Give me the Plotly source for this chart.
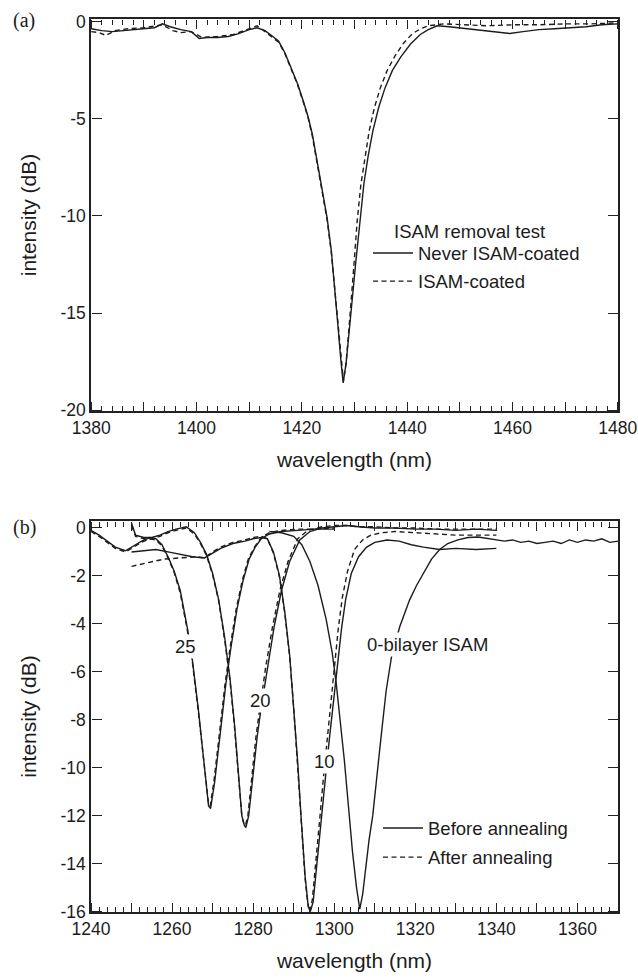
import plotly.graph_objects as go

# ---------------- Panel (a): ISAM removal test ----------------
wl_a_never = [1380, 1382, 1384, 1386, 1388, 1390, 1392, 1393.5, 1395, 1397, 1399, 1400.5, 1402, 1404,
              1406, 1408, 1410, 1411.5, 1413, 1414.5, 1415.6, 1416.8, 1418, 1419.2, 1420.3, 1421.2,
              1422.0, 1423.0, 1424.0, 1424.8, 1425.6, 1426.3, 1426.9, 1427.4, 1427.85, 1428.4, 1428.9,
              1429.5, 1430.2, 1431.0, 1431.8, 1432.6, 1433.5, 1434.6, 1435.8, 1437.2, 1438.8, 1440.6,
              1442.5, 1444.0, 1445.7, 1448, 1451, 1454, 1457, 1459.5, 1462, 1465, 1468, 1471, 1474,
              1477, 1480]
db_a_never = [-0.35, -0.45, -0.5, -0.45, -0.4, -0.35, -0.3, -0.1, -0.25, -0.4, -0.5, -0.85, -0.8, -0.8,
              -0.75, -0.6, -0.4, -0.3, -0.45, -0.75, -1.0, -1.6, -2.4, -3.2, -4.1, -4.9,
              -5.8, -7.4, -8.9, -10.1, -11.8, -13.8, -15.8, -17.4, -18.6, -17.6, -16.3,
              -14.5, -12.5, -10.2, -8.3, -6.9, -5.6, -4.4, -3.4, -2.5, -1.8, -1.15,
              -0.65, -0.4, -0.2, -0.25, -0.35, -0.45, -0.55, -0.6, -0.5, -0.4, -0.35, -0.3, -0.25,
              -0.15, -0.1]

wl_a_coated = [1380, 1381.5, 1382.8, 1384.5, 1387, 1390, 1393.5, 1395.5, 1397, 1399, 1401, 1404, 1407,
               1410, 1411.5, 1413, 1414.5, 1415.6, 1416.8, 1418, 1419.2, 1420.3, 1421.2, 1422.0,
               1423.0, 1424.0, 1424.8, 1425.6, 1426.3, 1426.9, 1427.4, 1427.9, 1428.4, 1428.8, 1429.3,
               1429.9, 1430.5, 1431.2, 1432.0, 1432.8, 1433.8, 1434.9, 1436.2, 1437.7, 1439.3, 1441.0,
               1442.6, 1444, 1447, 1450, 1455, 1460, 1465, 1470, 1475, 1480]
db_a_coated = [-0.5, -0.55, -0.7, -0.45, -0.35, -0.3, -0.15, -0.45, -0.55, -0.5, -0.8, -0.75, -0.65,
               -0.35, -0.2, -0.5, -0.8, -1.05, -1.65, -2.45, -3.25, -4.15, -4.95, -5.9,
               -7.5, -9.0, -10.2, -11.9, -13.9, -15.9, -17.4, -18.5, -17.6, -16.4, -14.6,
               -12.5, -10.3, -8.4, -6.9, -5.6, -4.4, -3.4, -2.5, -1.75, -1.1, -0.6,
               -0.35, -0.2, -0.1, -0.15, -0.2, -0.15, -0.15, -0.1, -0.1, -0.05]

# ---------------- Panel (b): annealing, several bilayer counts ----------------
wl_b25_before = [1240, 1242, 1244, 1246, 1248.5, 1250.5, 1252.5, 1254.5, 1256, 1257.5, 1259, 1260.5,
                 1262, 1263.8, 1265, 1266.5, 1268, 1269, 1269.5, 1270.5, 1272, 1273.2, 1274.5, 1276,
                 1277.5, 1279, 1280.5, 1282, 1284, 1287, 1291, 1295, 1300]
db_b25_before = [-0.1, -0.3, -0.55, -0.8, -0.95, -0.75, -0.55, -0.4, -0.45, -0.7, -1.2, -1.8,
                 -2.6, -4.2, -5.5, -7.6, -10.0, -11.6, -11.7, -10.6, -8.4, -6.6, -5.0, -3.4,
                 -2.2, -1.3, -0.8, -0.45, -0.25, -0.15, -0.1, -0.05, -0.05]
wl_b25_after = [1240, 1242, 1244, 1246, 1248.5, 1250.5, 1252.5, 1254.5, 1256, 1257.5, 1259, 1260.5,
                1262, 1263.8, 1265, 1266.5, 1268, 1269, 1269.4, 1270.3, 1271.8, 1273.0, 1274.3, 1275.8,
                1277.3, 1278.8, 1280.3, 1282, 1284, 1287, 1291, 1295, 1300]
db_b25_after = [-0.15, -0.35, -0.6, -0.85, -1.0, -0.8, -0.6, -0.45, -0.5, -0.75, -1.25, -1.85,
                -2.7, -4.3, -5.6, -7.7, -10.1, -11.5, -11.6, -10.6, -8.4, -6.6, -5.0, -3.4,
                -2.2, -1.3, -0.8, -0.4, -0.2, -0.1, -0.05, -0.05, 0.0]

wl_b20_before = [1250, 1251, 1253, 1255, 1257, 1259, 1261, 1263.5, 1265.5, 1267, 1268.5, 1270, 1271.5,
                 1273, 1274.3, 1275.4, 1276.4, 1277.2, 1277.8, 1278.2, 1278.9, 1280, 1281, 1281.8,
                 1283.5, 1285.2, 1287, 1289, 1291.5, 1294, 1297, 1300, 1303, 1306, 1310, 1315, 1320,
                 1325, 1330, 1335, 1340]
db_b20_before = [0.2, -0.3, -0.4, -0.4, -0.3, -0.15, -0.05, 0.05, -0.2, -0.6, -1.1, -1.9, -3.0,
                 -4.6, -6.3, -8.2, -10.3, -12.0, -12.4, -12.5, -12.0, -10.2, -8.7, -7.7,
                 -5.8, -4.1, -2.6, -1.4, -0.5, -0.15, 0.0, 0.05, 0.1, 0.05, 0.0, 0.0, -0.05,
                 -0.05, -0.1, -0.05, -0.1]
wl_b20_after = [1250, 1251, 1253, 1255, 1257, 1259, 1261, 1263.5, 1265.5, 1267, 1268.5, 1270, 1271.5,
                1273, 1274.3, 1275.4, 1276.4, 1277.2, 1277.8, 1278.1, 1278.7, 1279.7, 1280.7, 1281.5,
                1283.1, 1284.8, 1286.6, 1288.6, 1291, 1293.5, 1297, 1300, 1303, 1306, 1310, 1315, 1320,
                1325, 1330, 1335, 1340]
db_b20_after = [0.1, -0.35, -0.45, -0.45, -0.35, -0.2, -0.1, 0.0, -0.25, -0.65, -1.15, -1.95, -3.05,
                -4.7, -6.4, -8.3, -10.4, -12.0, -12.4, -12.4, -12.0, -10.2, -8.7, -7.7,
                -5.8, -4.1, -2.6, -1.4, -0.45, -0.1, 0.05, 0.1, 0.1, 0.05, 0.05, 0.0, 0.0,
                -0.05, -0.05, -0.05, -0.05]

wl_b10_before = [1250, 1253, 1256, 1259, 1262, 1265, 1268, 1270, 1272, 1275, 1278, 1280, 1282, 1283.5,
                 1285, 1286.5, 1287.8, 1289, 1290, 1291, 1291.8, 1292.8, 1293.6, 1294.1, 1294.8,
                 1295.8, 1296.9, 1297.9, 1298.8, 1299.8, 1300.8, 1301.8, 1302.8, 1304.2, 1306, 1308,
                 1310, 1313, 1316, 1319, 1322, 1326, 1330, 1335, 1340]
db_b10_before = [-1.0, -0.95, -0.9, -1.0, -1.1, -1.2, -1.25, -1.05, -0.85, -0.65, -0.55, -0.45, -0.4,
                 -0.45, -1.0, -2.0, -3.5, -5.3, -7.4, -9.8, -12.0, -14.5, -15.8, -16.0, -15.6,
                 -13.8, -12.0, -10.3, -8.8, -7.2, -5.7, -4.2, -3.0, -1.9, -1.2, -0.8,
                 -0.6, -0.5, -0.55, -0.7, -0.8, -0.9, -0.85, -0.9, -0.85]
wl_b10_after = [1250, 1254, 1258, 1262, 1266, 1268, 1270, 1272, 1275, 1278, 1280, 1282, 1283.5,
                1285, 1286.5, 1287.8, 1289, 1290, 1291, 1291.8, 1292.8, 1293.5, 1294.0, 1294.6,
                1295.5, 1296.5, 1297.4, 1298.3, 1299.2, 1300.1, 1301.0, 1302.0, 1303.3, 1305, 1307,
                1309, 1311.7, 1315, 1320, 1325, 1330, 1335, 1340]
db_b10_after = [-1.6, -1.45, -1.3, -1.25, -1.2, -1.25, -1.0, -0.8, -0.6, -0.5, -0.4, -0.35, -0.45,
                -1.05, -2.05, -3.55, -5.35, -7.5, -9.9, -12.1, -14.6, -15.7, -16.0, -15.5,
                -13.7, -12.0, -10.3, -8.8, -7.2, -5.7, -4.2, -2.9, -1.8, -0.9, -0.5,
                -0.3, -0.2, -0.15, -0.2, -0.25, -0.3, -0.3, -0.3]

wl_b0_before = [1284, 1287, 1290, 1292, 1294, 1296, 1298, 1299.5, 1300.5, 1301.5, 1302.5, 1303.5, 1304.5,
                1305.5, 1306.3, 1307, 1307.8, 1308.6, 1309.5, 1310.5, 1311.5, 1312.8, 1314.2, 1316.2,
                1318.6, 1320.3, 1322, 1324, 1326, 1328, 1330.5, 1333, 1335.5, 1338, 1340, 1342, 1344,
                1346, 1348, 1350, 1352, 1354, 1356, 1358, 1360, 1362, 1364, 1366, 1368, 1370]
db_b0_before = [-0.15, -0.2, -0.35, -0.7, -1.4, -2.4, -3.8, -5.2, -6.5, -8.0, -9.7, -11.6, -13.5,
                -15.0, -15.9, -15.3, -14.0, -13.0, -12.0, -10.3, -8.8, -6.8, -5.3, -4.1,
                -3.0, -2.4, -1.9, -1.3, -0.9, -0.65, -0.5, -0.4, -0.38, -0.45, -0.5, -0.55, -0.5,
                -0.6, -0.55, -0.65, -0.6, -0.55, -0.65, -0.5, -0.6, -0.5, -0.55, -0.45, -0.6, -0.55]

# tick values / labels
xa_vals = list(range(1380, 1481, 10))
xa_text = [str(v) if (v - 1380) % 20 == 0 else "" for v in xa_vals]
xb_vals = list(range(1240, 1371, 10))
xb_text = [str(v) if (v - 1240) % 20 == 0 else "" for v in xb_vals]
ya_vals = [0, -5, -10, -15, -20]
ya_text = ["0", "-5", "-10", "-15", "-20"]
yb_vals = [0, -2, -4, -6, -8, -10, -12, -14, -16]
yb_text = ["0", "-2", "-4", "-6", "-8", "-10", "-12", "-14", "-16"]

# ---------------- layout helpers (pixel geometry of the reference) ----------------
L, R, T, B = 91, 618, 19, 912
W, H = 638, 979


def px_x(x):
    return (x - L) / (R - L)


def px_y(y):
    return (B - y) / (B - T)


INK = "#1c1c1c"
AX = "#222222"
FONT = "Liberation Sans, Arial, sans-serif"
LW = 1.4
DASH = "5px,3.5px"
TICK_FS = 17.5
TITLE_FS = 21
LEG_FS = 18.5

XR_A = [1379.95, 1480.05]
YR_A = [-20.05, 0.15]
XR_B = [1240, 1370]
YR_B = [-16.02, 0.29]
YD_A = [px_y(411), 1]
YD_B = [0, px_y(521)]

fig = go.Figure()


def add(x, y, dashed, xa, ya, name=None, legend=None, show=False, group=None):
    fig.add_trace(go.Scatter(
        x=x, y=y, mode="lines", xaxis=xa, yaxis=ya,
        line=dict(color=INK, width=LW, dash=DASH if dashed else "solid"),
        name=name, showlegend=show, legend=legend, legendgroup=group,
        hoverinfo="skip"))


# panel (a)
add(wl_a_never, db_a_never, False, "x", "y", "Never ISAM-coated", "legend", True, "a1")
add(wl_a_coated, db_a_coated, True, "x", "y", "ISAM-coated", "legend", True, "a2")

# panel (b)
add(wl_b25_before, db_b25_before, False, "x2", "y2", "Before annealing", "legend2", True, "b1")
add(wl_b25_after, db_b25_after, True, "x2", "y2", "After annealing", "legend2", True, "b2")
add(wl_b20_before, db_b20_before, False, "x2", "y2")
add(wl_b20_after, db_b20_after, True, "x2", "y2")
add(wl_b10_before, db_b10_before, False, "x2", "y2")
add(wl_b10_after, db_b10_after, True, "x2", "y2")
add(wl_b0_before, db_b0_before, False, "x2", "y2")

# empty traces so that the tick-only overlay axes get drawn
for xa, ya in [("x3", "y3"), ("x4", "y4"), ("x5", "y5"), ("x6", "y6")]:
    fig.add_trace(go.Scatter(x=[], y=[], mode="lines", xaxis=xa, yaxis=ya,
                             showlegend=False, hoverinfo="skip"))

tickfont = dict(family=FONT, size=TICK_FS, color=INK)
titlefont = dict(family=FONT, size=TITLE_FS, color=INK)


def main_x(rng, vals, text, anchor):
    return dict(range=rng, domain=[0, 1], anchor=anchor,
                tickmode="array", tickvals=vals, ticktext=text, ticks="",
                showline=True, linecolor=AX, linewidth=1.6, mirror=True,
                showgrid=False, zeroline=False, tickfont=tickfont, ticklabeloverflow="allow",
                title=dict(text="wavelength (nm)", font=titlefont, standoff=16))


def main_y(rng, vals, text, domain, anchor):
    return dict(range=rng, domain=domain, anchor=anchor,
                tickmode="array", tickvals=vals, ticktext=text, ticks="",
                showline=True, linecolor=AX, linewidth=1.6, mirror=True,
                showgrid=False, zeroline=False, tickfont=tickfont,
                title=dict(text="intensity (dB)", font=titlefont, standoff=18))


def tick_x(rng, vals, over, side, pos):
    # tick-only axis whose "outside" ticks point into the plotting area
    return dict(range=rng, overlaying=over, anchor="free", position=pos, side=side,
                tickmode="array", tickvals=vals, ticks="outside", ticklen=9, tickwidth=1.3,
                tickcolor=AX, showticklabels=False, showline=False, showgrid=False, zeroline=False,
                minor=dict(tick0=vals[0], dtick=2, ticks="outside", ticklen=5, tickwidth=1.1,
                           tickcolor=AX, showgrid=False))


def tick_y(rng, vals, over, side, pos):
    return dict(range=rng, overlaying=over, anchor="free", position=pos, side=side,
                tickmode="array", tickvals=vals, ticks="outside", ticklen=10, tickwidth=1.3,
                tickcolor=AX, showticklabels=False, showline=False, showgrid=False, zeroline=False)


fig.update_layout(
    template="none",
    width=W, height=H,
    margin=dict(l=L, r=W - R, t=T, b=H - B),
    paper_bgcolor="white", plot_bgcolor="white",
    font=dict(family=FONT, size=16, color=INK),
    xaxis=main_x(XR_A, xa_vals, xa_text, "y"),
    yaxis=main_y(YR_A, ya_vals, ya_text, YD_A, "x"),
    xaxis2=main_x(XR_B, xb_vals, xb_text, "y2"),
    yaxis2=main_y(YR_B, yb_vals, yb_text, YD_B, "x2"),
    # panel (a) inward ticks: bottom edge (x3), top edge (x4), left edge (y3), right edge (y4)
    xaxis3=tick_x(XR_A, xa_vals, "x", "top", YD_A[0]),
    xaxis4=tick_x(XR_A, xa_vals, "x", "bottom", YD_A[1]),
    yaxis3=tick_y(YR_A, ya_vals, "y", "right", 0),
    yaxis4=tick_y(YR_A, ya_vals, "y", "left", 1),
    # panel (b)
    xaxis5=tick_x(XR_B, xb_vals, "x2", "top", YD_B[0]),
    xaxis6=tick_x(XR_B, xb_vals, "x2", "bottom", YD_B[1]),
    yaxis5=tick_y(YR_B, yb_vals, "y2", "right", 0),
    yaxis6=tick_y(YR_B, yb_vals, "y2", "left", 1),
    legend=dict(x=px_x(368), y=px_y(234.5), xanchor="left", yanchor="top",
                bgcolor="rgba(0,0,0,0)", font=dict(family=FONT, size=LEG_FS, color=INK),
                tracegroupgap=1, itemwidth=40, traceorder="grouped"),
    legend2=dict(x=px_x(378), y=px_y(809.5), xanchor="left", yanchor="top",
                 bgcolor="rgba(0,0,0,0)", font=dict(family=FONT, size=LEG_FS, color=INK),
                 tracegroupgap=2, itemwidth=40, traceorder="grouped"),
    showlegend=True,
)

ann = []
ann.append(dict(text="ISAM removal test", xref="paper", yref="paper", x=px_x(392), y=px_y(232),
                xanchor="left", yanchor="middle", showarrow=False,
                font=dict(family=FONT, size=LEG_FS, color=INK)))
ann.append(dict(text="(a)", xref="paper", yref="paper", x=px_x(24), y=px_y(21),
                xanchor="center", yanchor="middle", showarrow=False,
                font=dict(family="Liberation Serif, Times New Roman, serif", size=20, color=INK)))
ann.append(dict(text="(b)", xref="paper", yref="paper", x=px_x(24), y=px_y(527),
                xanchor="center", yanchor="middle", showarrow=False,
                font=dict(family="Liberation Serif, Times New Roman, serif", size=20, color=INK)))

curve_labels = [("25", 1263.3, -4.95), ("20", 1281.8, -7.2), ("10", 1297.6, -9.75),
                ("0-bilayer ISAM", 1323.0, -4.85)]
for txt, lx, ly in curve_labels:
    ann.append(dict(text=txt, xref="x2", yref="y2", x=lx, y=ly, showarrow=False,
                    bgcolor="white", borderpad=1,
                    font=dict(family=FONT, size=LEG_FS, color=INK)))

fig.update_layout(annotations=ann)

fig.write_html("out.html")
